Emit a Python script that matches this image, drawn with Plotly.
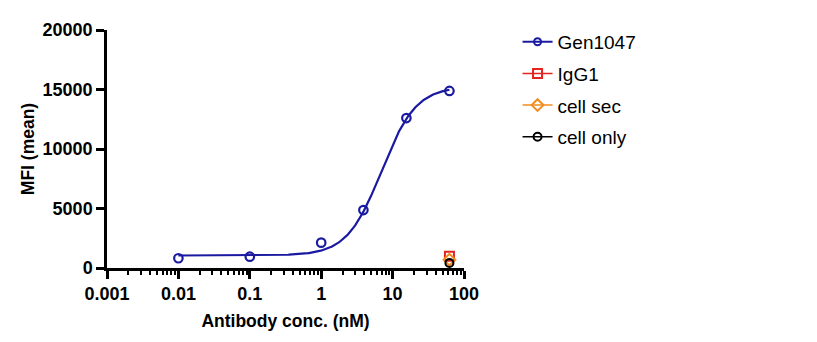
import numpy as np
import plotly.graph_objects as go

# ---- data ----
conc_gen = [0.01, 0.1, 1, 3.9, 15.6, 62.5]
mfi_gen = [820, 950, 2130, 4870, 12600, 14880]
conc_ctrl = [62.5]
mfi_igg1 = [980]
mfi_cellsec = [700]
mfi_cellonly = [420]

# 4PL fit parameters (bottom, top, EC50, hill) for Gen1047 curve
fit_bottom, fit_top, fit_ec50, fit_hill = 1050, 15250, 6.99, 1.8

x_ticks = [0.001, 0.01, 0.1, 1, 10, 100]
x_ticklabels = ["0.001", "0.01", "0.1", "1", "10", "100"]
y_ticks = [0, 5000, 10000, 15000, 20000]
y_ticklabels = ["0", "5000", "10000", "15000", "20000"]

NAVY = "#1a1aa0"
RED = "#e3231e"
ORANGE = "#f28c1e"
BLACK = "#000000"

xc = np.logspace(np.log10(conc_gen[0]), np.log10(conc_gen[-1]), 300)
yc = fit_bottom + (fit_top - fit_bottom) / (1 + (fit_ec50 / xc) ** fit_hill)

fig = go.Figure()
fig.add_trace(go.Scatter(x=xc, y=yc, mode="lines", line=dict(color=NAVY, width=2.2),
                         showlegend=False, hoverinfo="skip", legendgroup="g0"))
fig.add_trace(go.Scatter(x=conc_gen, y=mfi_gen, mode="markers", showlegend=False, legendgroup="g0",
                         marker=dict(symbol="circle-open", size=8.5, color=NAVY, line=dict(width=2.2, color=NAVY))))
fig.add_trace(go.Scatter(x=[None], y=[None], mode="lines+markers", name="Gen1047", legendgroup="g0",
                         line=dict(color=NAVY, width=2),
                         marker=dict(symbol="circle-open", size=7, color=NAVY, line=dict(width=2, color=NAVY))))
fig.add_trace(go.Scatter(x=conc_ctrl, y=mfi_igg1, mode="lines+markers", name="IgG1", legendgroup="g1",
                         line=dict(color=RED, width=1.5), cliponaxis=False,
                         marker=dict(symbol="square-open", size=9, color=RED, line=dict(width=2, color=RED))))
fig.add_trace(go.Scatter(x=conc_ctrl, y=mfi_cellsec, mode="lines+markers", name="cell sec", legendgroup="g2",
                         line=dict(color=ORANGE, width=1.5), cliponaxis=False,
                         marker=dict(symbol="diamond-open", size=9, color=ORANGE, line=dict(width=2, color=ORANGE))))
fig.add_trace(go.Scatter(x=conc_ctrl, y=mfi_cellonly, mode="lines+markers", name="cell only", legendgroup="g3",
                         line=dict(color=BLACK, width=1.5), cliponaxis=False,
                         marker=dict(symbol="circle-open", size=8, color=BLACK, line=dict(width=2, color=BLACK))))

minor_vals = [m * 10.0 ** d for d in range(-3, 2) for m in range(2, 10)]

tick_font = dict(family="Liberation Sans, Arial", size=18, color="black", weight="bold")
title_font = dict(family="Liberation Sans, Arial", size=17.5, color="black", weight="bold")

fig.update_xaxes(type="log", range=[-3, 2], tickmode="array", tickvals=x_ticks, ticktext=x_ticklabels,
                 showgrid=False, zeroline=False, showline=True, linecolor="black", linewidth=2.5,
                 ticks="outside", ticklen=8, tickwidth=2.5, tickcolor="black",
                 tickfont=tick_font,
                 minor=dict(tickmode="array", tickvals=minor_vals, ticks="outside", ticklen=4,
                            tickwidth=2, tickcolor="black", showgrid=False),
                 title=dict(text="Antibody conc. (nM)", font=title_font, standoff=12))
fig.update_yaxes(range=[0, 20000], tickmode="array", tickvals=y_ticks, ticktext=y_ticklabels,
                 showgrid=False, zeroline=False, showline=True, linecolor="black", linewidth=2.5,
                 ticks="outside", ticklen=8, tickwidth=2.5, tickcolor="black",
                 tickfont=tick_font,
                 title=dict(text="MFI (mean)", font=title_font, standoff=4))

fig.update_layout(
    width=817, height=342,
    margin=dict(l=107, r=353, t=30, b=74),
    plot_bgcolor="white", paper_bgcolor="white",
    legend=dict(x=1.15, y=1.03, xanchor="left", yanchor="top",
                font=dict(family="Liberation Sans, Arial", size=19, color="black"),
                tracegroupgap=4, itemwidth=30, bgcolor="rgba(0,0,0,0)"),
)

fig.write_html("out.html")
